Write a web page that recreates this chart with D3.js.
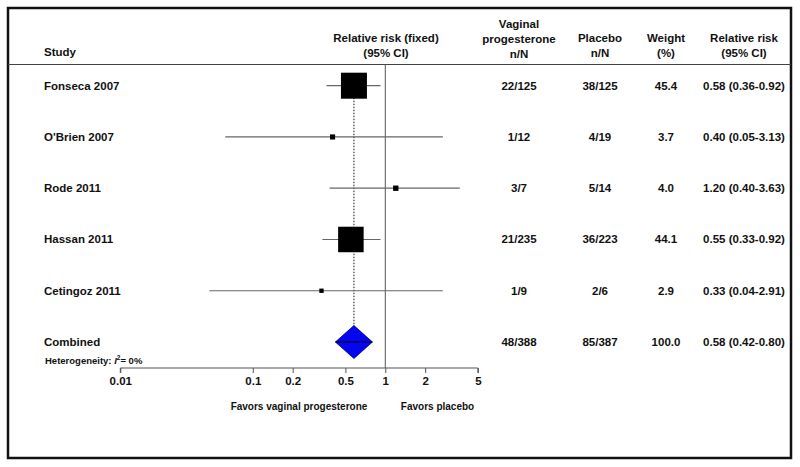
<!DOCTYPE html>
<html><head><meta charset="utf-8">
<script src="https://cdn.jsdelivr.net/npm/d3@7"></script>
<style>
html,body{margin:0;padding:0;background:#fff;}
text{font-family:"Liberation Sans",Arial,sans-serif;font-weight:bold;fill:#111;}
</style></head>
<body><svg id="c" width="800" height="467"></svg>
<script>
const studies = ["Fonseca 2007","O'Brien 2007","Rode 2011","Hassan 2011","Cetingoz 2011"];
const rr      = [0.58, 0.40, 1.20, 0.55, 0.33];
const ciLow   = [0.36, 0.062, 0.38, 0.335, 0.047];
const ciHigh  = [0.92, 2.72, 3.65, 0.92, 2.72];
const weights = [45.4, 3.7, 4.0, 44.1, 2.9];
const vagText = ["22/125","1/12","3/7","21/235","1/9"];
const plaText = ["38/125","4/19","5/14","36/223","2/6"];
const wText   = ["45.4","3.7","4.0","44.1","2.9"];
const rrText  = ["0.58 (0.36-0.92)","0.40 (0.05-3.13)","1.20 (0.40-3.63)","0.55 (0.33-0.92)","0.33 (0.04-2.91)"];
const combined = {rr:0.58, lo:0.42, hi:0.80, vag:"48/388", pla:"85/387", w:"100.0", txt:"0.58 (0.42-0.80)"};
const tickValues = [0.01, 0.1, 0.2, 0.5, 1, 2, 5];
const tickLabels = ["0.01","0.1","0.2","0.5","1","2","5"];

const svg = d3.select("#c");
const x = d3.scaleLog().domain([0.01, 5]).range([120.3, 477.9]);
const rowY = d3.scalePoint().domain([...studies, "Combined"]).range([85.7, 342]);
const size = d3.scalePow().exponent(0.65).domain([0, 45.4]).range([0, 26]);

// frame
svg.append("rect").attr("x",8).attr("y",8).attr("width",783).attr("height",450)
  .attr("fill","none").attr("stroke","#111").attr("stroke-width",2.5);
svg.append("line").attr("x1",8).attr("x2",791).attr("y1",64.5).attr("y2",64.5)
  .attr("stroke","#444").attr("stroke-width",1);

// headers
const hdr = (cx, lines, y0) => {
  lines.forEach((l,i)=> svg.append("text").attr("x",cx).attr("y",y0+i*15)
    .attr("text-anchor","middle").attr("font-size",11.5).text(l));
};
svg.append("text").attr("x",44).attr("y",56).attr("font-size",11.5).text("Study");
hdr(386, ["Relative risk (fixed)","(95% CI)"], 41.5);
const colX = [519, 600, 666, 744];
hdr(colX[0], ["Vaginal","progesterone","n/N"], 28);
hdr(colX[1], ["Placebo","n/N"], 41.5);
hdr(colX[2], ["Weight","(%)"], 41.5);
hdr(colX[3], ["Relative risk","(95% CI)"], 41.5);

// null line
svg.append("line").attr("x1",x(1)).attr("x2",x(1)).attr("y1",64.5).attr("y2",368)
  .attr("stroke","#555").attr("stroke-width",1);

// dotted combined line
svg.append("line").attr("x1",x(combined.rr)).attr("x2",x(combined.rr))
  .attr("y1",rowY(studies[0])).attr("y2",rowY("Combined"))
  .attr("stroke","#111").attr("stroke-width",1).attr("stroke-dasharray","1.5,1.5");

// study rows
studies.forEach((s,i)=>{
  const y = rowY(s);
  svg.append("line").attr("x1",x(ciLow[i])).attr("x2",x(ciHigh[i])).attr("y1",y).attr("y2",y)
    .attr("stroke","#666").attr("stroke-width",1.2);
  const sz = size(weights[i]);
  svg.append("rect").attr("x",x(rr[i])-sz/2).attr("y",y-sz/2).attr("width",sz).attr("height",sz)
    .attr("fill","#000");
  svg.append("text").attr("x",44).attr("y",y+4).attr("font-size",11.5).text(s);
  [vagText[i], plaText[i], wText[i], rrText[i]].forEach((t,j)=>
    svg.append("text").attr("x",colX[j]).attr("y",y+4).attr("text-anchor","middle").attr("font-size",11.5).text(t));
});

// combined diamond
const cy = rowY("Combined");
const pts = [[x(combined.lo),cy],[x(combined.rr),cy-16.5],[x(combined.hi),cy],[x(combined.rr),cy+16.5]];
svg.append("polygon").attr("points",pts.map(p=>p.join(",")).join(" "))
  .attr("fill","#0505f0").attr("stroke","#00008a").attr("stroke-width",0.8);
svg.append("line").attr("x1",x(combined.lo)).attr("x2",x(combined.hi)).attr("y1",cy).attr("y2",cy)
  .attr("stroke","#000").attr("stroke-width",1.2);
svg.append("text").attr("x",44).attr("y",cy+4).attr("font-size",11.5).text("Combined");
[combined.vag, combined.pla, combined.w, combined.txt].forEach((t,j)=>
  svg.append("text").attr("x",colX[j]).attr("y",cy+4).attr("text-anchor","middle").attr("font-size",11.5).text(t));

const het = svg.append("text").attr("x",45).attr("y",364).attr("font-size",9.5);
het.append("tspan").text("Heterogeneity: ");
het.append("tspan").attr("font-style","italic").text("I");
het.append("tspan").attr("font-size",6.5).attr("dy",-4).text("2");
het.append("tspan").attr("dy",4).text("= 0%");

// axis
const axis = d3.axisBottom(x).tickValues(tickValues).tickFormat((d,i)=>tickLabels[i]).tickSize(5).tickPadding(4);
const g = svg.append("g").attr("transform","translate(0,368)").call(axis);
g.select(".domain").attr("stroke","#555").attr("d",`M${x(0.01)},5V0H${x(5)}V5`);
g.selectAll(".tick line").attr("stroke","#555");
g.selectAll(".tick text").attr("font-size",11.5).attr("font-family","Liberation Sans, Arial, sans-serif")
  .attr("font-weight","bold").attr("fill","#111");

svg.append("text").attr("x",299).attr("y",409.5).attr("text-anchor","middle").attr("font-size",10).text("Favors vaginal progesterone");
svg.append("text").attr("x",437.5).attr("y",409.5).attr("text-anchor","middle").attr("font-size",10).text("Favors placebo");
</script></body></html>
